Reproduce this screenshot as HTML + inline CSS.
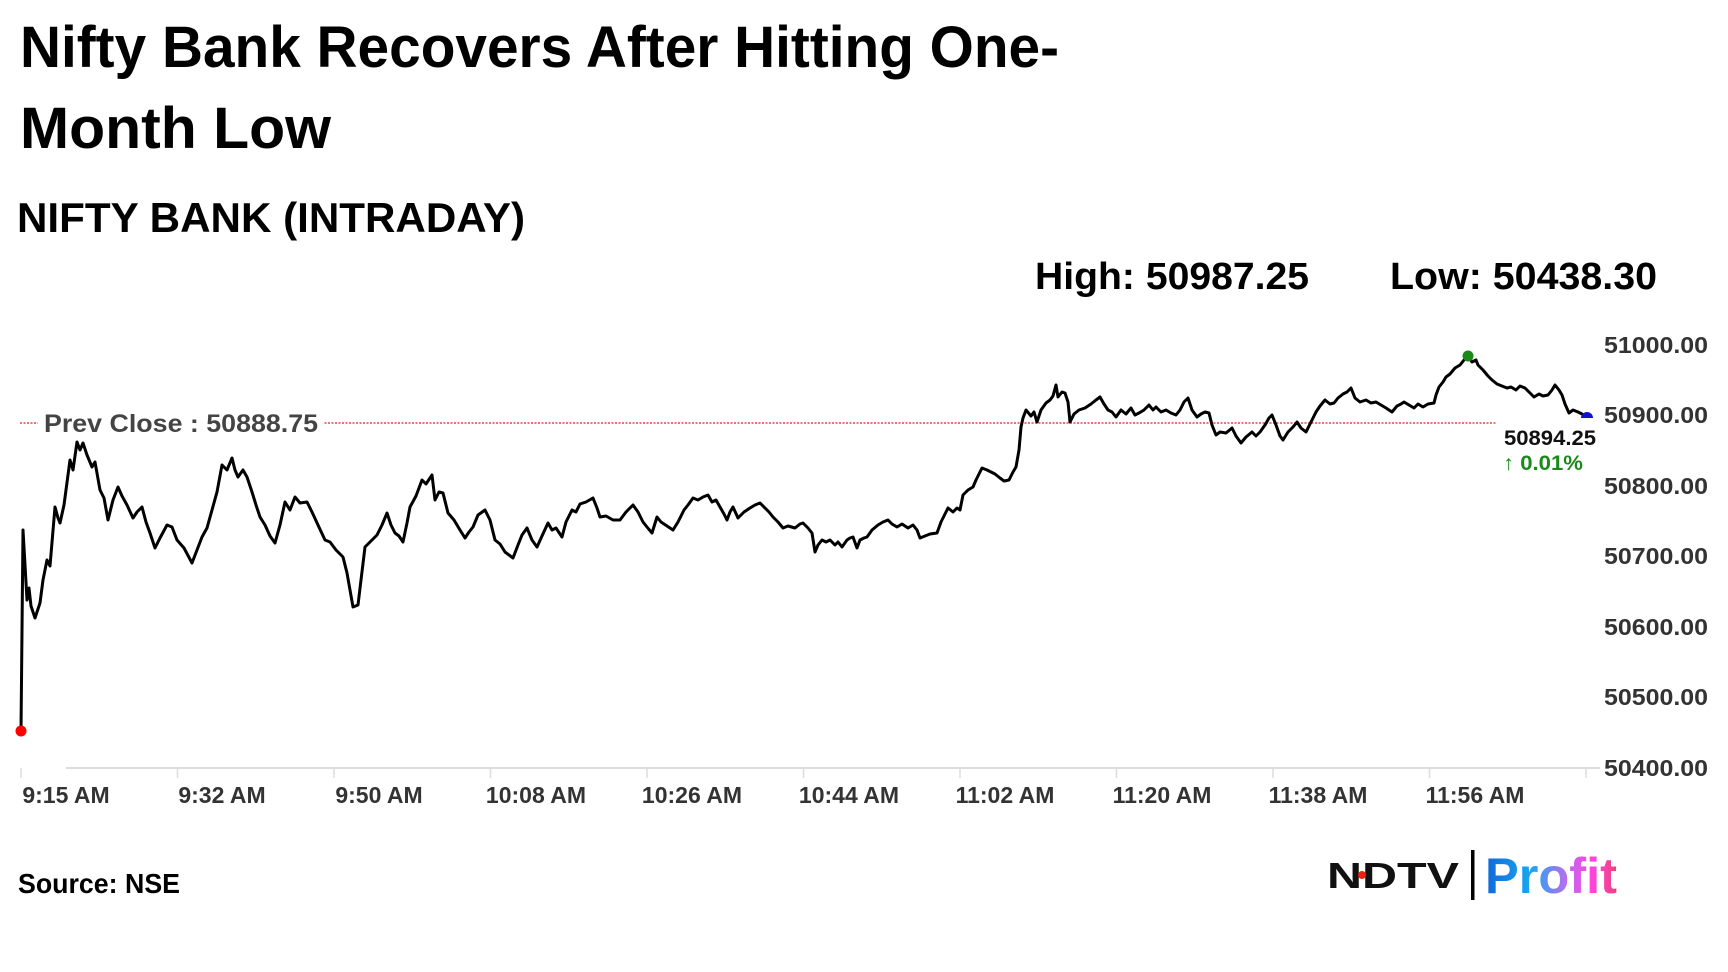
<!DOCTYPE html>
<html><head><meta charset="utf-8"><style>
html,body{margin:0;padding:0;background:#fff;}
svg{display:block;}
</style></head><body>
<svg width="1728" height="972" viewBox="0 0 1728 972" xmlns="http://www.w3.org/2000/svg">
<defs>
<linearGradient id="pg" x1="0" x2="1" y1="0" y2="0">
<stop offset="0" stop-color="#1167d8"/><stop offset="0.35" stop-color="#1aa8f0"/><stop offset="0.6" stop-color="#b070f0"/><stop offset="0.8" stop-color="#ff44e0"/><stop offset="1" stop-color="#f0407a"/>
</linearGradient>
</defs>
<g font-family="'Liberation Sans', sans-serif" font-weight="bold">
<text x="20" y="67" font-size="58" fill="#000" textLength="1039" lengthAdjust="spacingAndGlyphs">Nifty Bank Recovers After Hitting One-</text>
<text x="20" y="148" font-size="58" fill="#000" textLength="311" lengthAdjust="spacingAndGlyphs">Month Low</text>
<text x="17" y="232" font-size="42" fill="#000" textLength="508" lengthAdjust="spacingAndGlyphs">NIFTY BANK (INTRADAY)</text>
<text x="1035" y="289" font-size="38" fill="#000" textLength="274" lengthAdjust="spacingAndGlyphs">High: 50987.25</text>
<text x="1390" y="289" font-size="38" fill="#000" textLength="267" lengthAdjust="spacingAndGlyphs">Low: 50438.30</text>

<g font-size="23" fill="#333">
<text x="1604" y="353" textLength="104" lengthAdjust="spacingAndGlyphs">51000.00</text>
<text x="1604" y="423" textLength="104" lengthAdjust="spacingAndGlyphs">50900.00</text>
<text x="1604" y="494" textLength="104" lengthAdjust="spacingAndGlyphs">50800.00</text>
<text x="1604" y="564" textLength="104" lengthAdjust="spacingAndGlyphs">50700.00</text>
<text x="1604" y="635" textLength="104" lengthAdjust="spacingAndGlyphs">50600.00</text>
<text x="1604" y="705" textLength="104" lengthAdjust="spacingAndGlyphs">50500.00</text>
<text x="1604" y="776" textLength="104" lengthAdjust="spacingAndGlyphs">50400.00</text>
</g>

<line x1="66" y1="768" x2="1600" y2="768" stroke="#dcdcdc" stroke-width="2"/>
<g stroke="#dcdcdc" stroke-width="1.5">
<line x1="21" y1="768" x2="21" y2="778"/><line x1="177.5" y1="768" x2="177.5" y2="778"/><line x1="334" y1="768" x2="334" y2="778"/><line x1="490.5" y1="768" x2="490.5" y2="778"/><line x1="647" y1="768" x2="647" y2="778"/><line x1="803.5" y1="768" x2="803.5" y2="778"/><line x1="960" y1="768" x2="960" y2="778"/><line x1="1116.5" y1="768" x2="1116.5" y2="778"/><line x1="1273" y1="768" x2="1273" y2="778"/><line x1="1429.5" y1="768" x2="1429.5" y2="778"/><line x1="1586" y1="768" x2="1586" y2="778"/>
</g>
<g font-size="23" fill="#333" text-anchor="middle">
<text x="66" y="803">9:15 AM</text>
<text x="222" y="803">9:32 AM</text>
<text x="379" y="803">9:50 AM</text>
<text x="536" y="803">10:08 AM</text>
<text x="692" y="803">10:26 AM</text>
<text x="849" y="803">10:44 AM</text>
<text x="1005" y="803">11:02 AM</text>
<text x="1162" y="803">11:20 AM</text>
<text x="1318" y="803">11:38 AM</text>
<text x="1475" y="803">11:56 AM</text>
</g>

<line x1="20" y1="423" x2="1496" y2="423" stroke="#e02020" stroke-width="1.3" stroke-dasharray="2,1.5"/>
<rect x="38" y="408" width="286" height="30" fill="#fff"/>
<text x="44" y="432" font-size="25" fill="#444" textLength="274" lengthAdjust="spacingAndGlyphs">Prev Close : 50888.75</text>

<polyline fill="none" stroke="#000" stroke-width="3" stroke-linejoin="round" points="21,731 23,530 27,600 29,588 31,606 35,618 38,609 40,603 43,580 47,560 50,566 55,507 58,518 60,523 64,505 70,460 73,470 77,442 80,450 83,443 87,455 92,467 95,462 100,490 104,498 108,520 113,500 118,487 122,496 127,505 133,518 137,512 142,507 146,522 150,533 155,548 160,538 167,525 172,527 177,540 184,548 192,563 197,550 202,537 207,528 212,510 217,492 222,465 227,470 232,458 235,470 238,477 243,470 247,477 252,492 256,505 260,517 265,525 270,536 275,543 280,525 285,502 290,510 295,497 300,503 307,502 312,512 318,525 325,540 330,542 336,550 343,557 347,573 350,590 353,607 358,605 361,580 365,547 370,542 377,535 382,525 387,513 391,525 395,533 399,536 403,542 407,523 410,507 416,496 422,480 426,484 432,475 435,500 439,492 443,493 446,505 448,513 454,520 460,530 465,538 469,532 473,527 478,515 485,510 490,520 495,540 500,544 505,552 513,558 518,545 522,535 527,528 532,540 537,547 542,536 548,523 552,530 556,528 562,537 566,522 572,510 576,512 580,504 586,502 593,498 597,508 600,517 606,516 613,520 620,520 626,512 633,505 638,512 643,522 647,527 652,533 657,517 661,522 667,526 673,530 678,522 684,510 688,505 693,498 698,500 703,497 708,495 712,502 716,500 720,507 724,514 727,520 730,512 733,507 738,518 744,512 750,508 755,505 760,503 765,508 769,512 773,517 778,522 783,528 788,526 795,528 800,524 803,523 808,528 812,533 815,552 818,545 822,540 826,542 830,540 835,545 838,542 842,547 847,540 850,538 853,537 857,548 860,540 864,538 867,537 872,530 878,525 883,522 888,520 892,524 897,527 902,524 908,528 913,525 917,530 920,538 925,536 930,534 937,533 941,522 945,514 948,508 953,512 957,508 960,510 963,495 968,490 973,487 976,480 979,474 982,468 987,470 991,472 995,474 1000,478 1004,481 1009,480 1013,472 1016,467 1019,450 1021,427 1023,418 1026,410 1031,416 1034,412 1037,422 1041,410 1046,403 1050,400 1053,396 1056,385 1058,397 1062,392 1065,393 1068,402 1070,422 1074,414 1079,410 1085,408 1091,404 1096,400 1100,397 1104,404 1108,410 1112,412 1116,417 1121,410 1126,414 1131,408 1135,415 1139,413 1144,410 1149,405 1153,410 1156,407 1161,412 1166,410 1171,413 1176,415 1180,410 1184,402 1188,398 1192,410 1197,417 1201,414 1205,412 1209,413 1212,425 1216,435 1220,432 1226,433 1232,428 1236,436 1241,443 1246,437 1252,432 1256,436 1260,432 1265,425 1269,418 1272,415 1276,425 1280,436 1283,440 1288,432 1293,427 1297,422 1301,428 1306,432 1311,422 1316,412 1320,406 1325,400 1330,404 1334,403 1338,398 1343,394 1347,392 1351,388 1355,398 1360,402 1366,400 1371,403 1376,402 1381,405 1386,408 1392,412 1397,406 1401,404 1404,402 1409,405 1414,408 1418,404 1423,407 1428,404 1434,403 1436,395 1439,387 1443,382 1446,377 1450,374 1455,368 1460,365 1464,360 1468,356 1472,362 1476,360 1478,365 1483,370 1488,376 1492,380 1497,384 1502,386 1507,388 1511,387 1516,390 1520,386 1525,388 1529,392 1534,397 1539,394 1543,396 1548,395 1552,390 1555,385 1559,390 1562,395 1565,404 1569,413 1573,410 1578,412 1582,414 1587,417"/>
<circle cx="21" cy="731" r="5.5" fill="#f00"/>
<circle cx="1468" cy="356" r="5.5" fill="#1a8a1a"/>
<path d="M1581,418 a6,6 0 0 1 12,0 z" fill="#1010d0"/>

<text x="1504" y="445" font-size="21" fill="#111" textLength="92" lengthAdjust="spacingAndGlyphs">50894.25</text>
<text x="1503" y="470" font-size="21" fill="#1a8a1a" textLength="80" lengthAdjust="spacingAndGlyphs">↑ 0.01%</text>

<text x="18" y="893" font-size="28" fill="#000" textLength="162" lengthAdjust="spacingAndGlyphs">Source: NSE</text>

<text x="1327" y="888" font-size="36" font-weight="900" fill="#111" textLength="132" lengthAdjust="spacingAndGlyphs">NDTV</text>
<circle cx="1362" cy="875" r="4" fill="#e21"/>
<rect x="1471" y="850" width="3.5" height="50" fill="#000"/>
<text x="1485" y="893" font-size="50" fill="url(#pg)" textLength="132" lengthAdjust="spacingAndGlyphs">Profit</text>
</g>
</svg>
</body></html>
